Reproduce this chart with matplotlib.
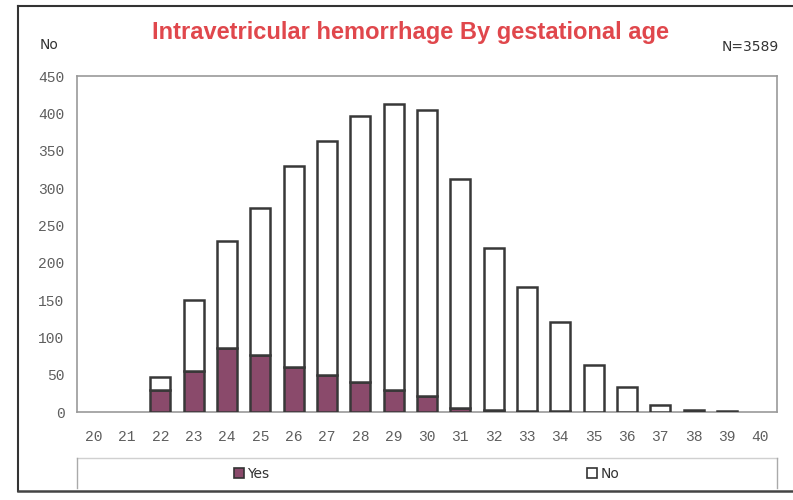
import matplotlib
matplotlib.use("Agg")
import matplotlib.pyplot as plt
from matplotlib.lines import Line2D

# ---- data ----
ages = [str(a) for a in range(20, 41)]
yes = [0, 0, 29, 55, 86, 76, 60, 50, 40, 30, 22, 5, 3, 1, 1, 0, 0, 0, 0, 0, 0]
totals = [0, 0, 47, 150, 229, 273, 329, 363, 397, 412, 405, 312, 220, 168, 120, 63, 34, 9, 3, 1, 0]
no = [t - y for t, y in zip(totals, yes)]
y_ticks = [0, 50, 100, 150, 200, 250, 300, 350, 400, 450]

W, H = 793, 500
fig = plt.figure(figsize=(W / 100, H / 100), dpi=100)
fig.patch.set_facecolor("white")

def fx(px):
    return px / W

def fy(py):
    return 1 - py / H

ax = fig.add_axes([fx(77), fy(412), fx(777) - fx(77), fy(76) - fy(412)])

x = list(range(len(ages)))
bar_fill = "#8a4a6b"
edge = "#383838"
edges = [edge if t > 0 else "none" for t in totals]

b_yes = ax.bar(x, yes, width=0.6, color=bar_fill, edgecolor=edges, linewidth=1.8, label="Yes", zorder=3)
b_no = ax.bar(x, no, bottom=yes, width=0.6, color="white", edgecolor=edges, linewidth=1.8, label="No", zorder=3)

ax.set_xlim(-0.5, len(ages) - 0.5)
ax.set_ylim(0, 450)
ax.set_yticks(y_ticks)
ax.set_yticklabels([str(v) for v in y_ticks])
ax.set_xticks(x)
ax.set_xticklabels(ages)
ax.tick_params(axis="both", length=0, colors="#5e5e5e", labelsize=10.5)
ax.tick_params(axis="y", pad=9)
ax.tick_params(axis="x", pad=13)
for lab in ax.get_xticklabels() + ax.get_yticklabels():
    lab.set_fontfamily("Liberation Mono")
for s in ax.spines.values():
    s.set_color("#999999")
    s.set_linewidth(1.2)

# titles and annotations
fig.text(fx(410), fy(32), "Intravetricular hemorrhage By gestational age",
         ha="center", va="center", color="#e0474c", fontsize=17, fontweight="bold",
         family="Liberation Sans")
fig.text(fx(40), fy(45), "No", ha="left", va="center", color="#333333", fontsize=10,
         family="DejaVu Sans")
fig.text(fx(779), fy(47), "N=3589", ha="right", va="center", color="#333333", fontsize=10,
         family="DejaVu Sans")

# outer frame
fig.add_artist(Line2D([fx(18), fx(793)], [fy(6), fy(6)], color="#333333", lw=1.5))
fig.add_artist(Line2D([fx(18), fx(18)], [fy(6), fy(491)], color="#333333", lw=1.5))
fig.add_artist(Line2D([fx(18), fx(793)], [fy(491), fy(491)], color="#444444", lw=1.8))

# legend box
fig.add_artist(Line2D([fx(77), fx(777)], [fy(458), fy(458)], color="#d0d0d0", lw=1.0))
fig.add_artist(Line2D([fx(77), fx(77)], [fy(458), fy(488)], color="#aaaaaa", lw=1.0))
fig.add_artist(Line2D([fx(777), fx(777)], [fy(458), fy(488)], color="#aaaaaa", lw=1.0))

leg_kw = dict(frameon=False, fontsize=10, handlelength=0.75, handleheight=0.75,
              handletextpad=0.2, borderpad=0, borderaxespad=0, loc="center left")
leg1 = fig.legend(handles=[b_yes], labels=["Yes"], bbox_to_anchor=(fx(234), fy(474)), **leg_kw)
leg2 = fig.legend(handles=[b_no], labels=["No"], bbox_to_anchor=(fx(587), fy(474)), **leg_kw)
for leg in (leg1, leg2):
    for t in leg.get_texts():
        t.set_color("#333333")
    for h in leg.legend_handles:
        h.set_edgecolor("#333333")
        h.set_linewidth(1.2)

fig.savefig("out.png", dpi=100)
